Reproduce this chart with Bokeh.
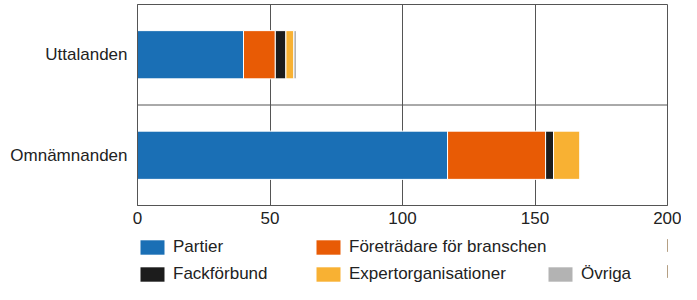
from bokeh.plotting import figure
from bokeh.layouts import column
from bokeh.models import (ColumnDataSource, FactorRange, Range1d, Legend,
                          LegendItem, Span, FixedTicker)
from bokeh.embed import file_html
from bokeh.resources import INLINE

categories = ["Omnämnanden", "Uttalanden"]
partier = [117, 40]
foretradare = [37, 12]
fackforbund = [3, 4]
expert = [10, 3]
ovriga = [0, 1]

series_keys = ["partier", "foretradare", "fackforbund", "expert", "ovriga"]
series_labels = ["Partier", "Företrädare för branschen", "Fackförbund",
                 "Expertorganisationer", "Övriga"]
colors = ["#1a6fb5", "#e85b05", "#1c1c1c", "#f8b133", "#b3b3b3"]
x_ticks = [0, 50, 100, 150, 200]

FONT = "Liberation Sans"
TXT = "#222222"
LINE = "#555555"

source = ColumnDataSource(dict(cat=categories, partier=partier,
                               foretradare=foretradare,
                               fackforbund=fackforbund, expert=expert,
                               ovriga=ovriga))

p = figure(width=681, height=232,
           y_range=FactorRange(factors=categories, range_padding=0),
           x_range=Range1d(0, 200),
           output_backend="svg", toolbar_location=None,
           min_border_left=137, min_border_right=14,
           min_border_top=4, min_border_bottom=27)

renderers = p.hbar_stack(series_keys, y="cat", height=0.48, color=colors,
                         source=source, line_color="white", line_width=1)

p.outline_line_color = LINE
p.outline_line_width = 1

p.xgrid.grid_line_color = LINE
p.xgrid.grid_line_width = 1
p.ygrid.grid_line_color = None
p.add_layout(Span(location=1, dimension="width", line_color=LINE,
                  line_width=1))

p.xaxis.ticker = FixedTicker(ticks=x_ticks)
p.xaxis.axis_line_color = LINE
p.xaxis.major_tick_line_color = None
p.xaxis.minor_tick_line_color = None
p.xaxis.major_tick_out = 0
p.xaxis.major_label_standoff = 6
p.xaxis.major_label_text_font = FONT
p.xaxis.major_label_text_font_size = "17px"
p.xaxis.major_label_text_color = TXT

p.yaxis.axis_line_color = LINE
p.yaxis.major_tick_line_color = None
p.yaxis.minor_tick_line_color = None
p.yaxis.major_tick_out = 0
p.yaxis.major_label_standoff = 10
p.yaxis.major_label_text_font = FONT
p.yaxis.major_label_text_font_size = "17px"
p.yaxis.major_label_text_color = TXT

# legend strip below the chart (its frame is aligned with the chart's frame)
lg = figure(width=681, height=52, x_range=Range1d(-2, -1),
            y_range=FactorRange(factors=categories),
            output_backend="svg", toolbar_location=None,
            x_axis_location=None, y_axis_location=None,
            min_border_left=137, min_border_right=14,
            min_border_top=0, min_border_bottom=0)
lg.outline_line_color = None
lg.xgrid.grid_line_color = None
lg.ygrid.grid_line_color = None
proxies = lg.hbar_stack(series_keys, y="cat", height=0.48, color=colors,
                        source=source, line_color=None)

legend_pos = [(0, 27), (176, 27), (0, 0), (176, 0), (408, 0)]
for r, lab, pos in zip(proxies, series_labels, legend_pos):
    leg = Legend(items=[LegendItem(label=lab, renderers=[r])],
                 location=pos, orientation="horizontal",
                 padding=0, margin=0, spacing=0,
                 glyph_width=30, glyph_height=18, label_height=18,
                 label_standoff=6,
                 label_text_font=FONT, label_text_font_size="17px",
                 label_text_color=TXT,
                 border_line_alpha=0, background_fill_alpha=0)
    lg.add_layout(leg)

layout = column(p, lg, spacing=0)
open("out.html", "w").write(file_html(layout, INLINE))
